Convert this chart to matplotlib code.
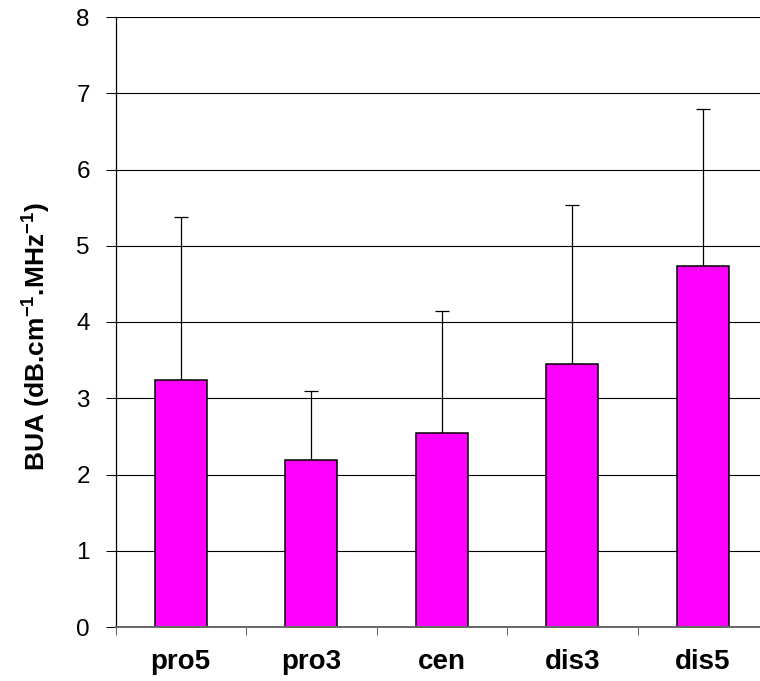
import matplotlib
matplotlib.use('Agg')
import matplotlib.pyplot as plt
import numpy as np

plt.rcParams['font.family'] = ['Liberation Sans', 'DejaVu Sans']
plt.rcParams['mathtext.fontset'] = 'custom'
plt.rcParams['mathtext.rm'] = 'Liberation Sans'
plt.rcParams['mathtext.bf'] = 'Liberation Sans:bold'

# data
sites = ['pro5', 'pro3', 'cen', 'dis3', 'dis5']
bua_mean = [3.24, 2.19, 2.55, 3.45, 4.74]
bua_sd = [2.14, 0.91, 1.59, 2.09, 2.06]
y_ticks = [0, 1, 2, 3, 4, 5, 6, 7, 8]

fig = plt.figure(figsize=(7.6, 6.81), dpi=100)
# plot area runs slightly past the right edge, like the original
ax = fig.add_axes([115.5 / 760, 54 / 681, 652.5 / 760, 610 / 681])

x = np.arange(len(sites))
ax.bar(x, bua_mean, width=0.4, color='#ff00ff', edgecolor='black',
       linewidth=1.1, zorder=3)
ax.errorbar(x, bua_mean, yerr=[[0] * len(sites), bua_sd], fmt='none',
            ecolor='black', elinewidth=0.9, capsize=4.7, capthick=0.9, zorder=2)

ax.set_ylim(0, 8)
ax.set_xlim(-0.5, len(sites) - 0.5)
ax.set_yticks(y_ticks)
ax.yaxis.grid(True, color='black', linewidth=0.8)
ax.set_axisbelow(True)
ax.tick_params(axis='y', labelsize=17.5, length=7.5, width=0.75, pad=11)

# ticks between categories, labels at category centers
ax.set_xticks(np.arange(-0.5, len(sites), 1.0))
ax.set_xticklabels([])
ax.set_xticks(x, minor=True)
ax.set_xticklabels(sites, minor=True, fontsize=20, fontweight='bold')
ax.tick_params(axis='x', which='major', length=6, width=0.75, color='#666666')
ax.tick_params(axis='x', which='minor', length=0, pad=16)

for side in ['top', 'right']:
    ax.spines[side].set_visible(False)
ax.spines['left'].set_linewidth(0.9)
ax.spines['bottom'].set_color('#666666')
ax.spines['bottom'].set_linewidth(1.4)
ax.spines['bottom'].set_zorder(4)

ax.set_ylabel(r'BUA (dB.cm$^{\mathbf{-1}}$.MHz$^{\mathbf{-1}}$)',
              fontsize=19, fontweight='bold')
ax.yaxis.set_label_coords(-0.097, 0.477)

fig.savefig('out.png', dpi=100)
